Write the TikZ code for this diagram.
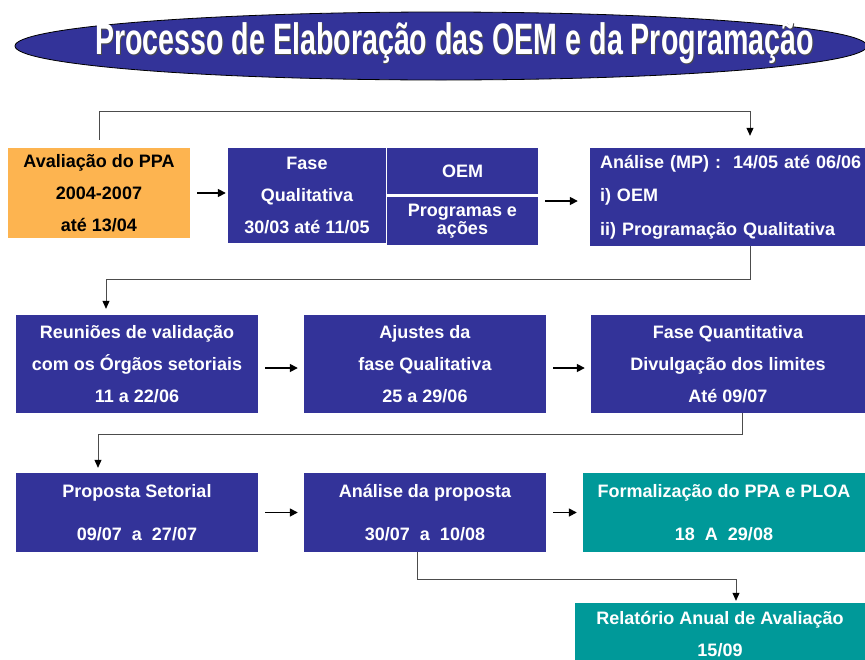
\documentclass[tikz,border=0pt]{standalone}
\usepackage{fontspec}
\setmainfont{Liberation Sans}
\newfontfamily\narrowfont[FakeStretch=0.65]{Liberation Sans}
\usetikzlibrary{arrows.meta}

\definecolor{oemblue}{RGB}{51,51,153}
\definecolor{ppaorange}{RGB}{253,180,80}
\definecolor{ppateal}{RGB}{0,153,153}

\tikzset{
    box/.style={rectangle, inner sep=0pt, align=center, text=white,
        font=\bfseries\fontsize{18}{32}\selectfont},
    bluebox/.style={box, fill=oemblue},
    tealbox/.style={box, fill=ppateal},
    link/.style={draw=gray!60!black, line width=0.8pt,
        -{Triangle[length=8pt,width=7pt,color=black]}},
    go/.style={line width=1.6pt, -{Triangle[length=8pt,width=8pt]}}
}

\begin{document}
\begin{tikzpicture}[x=1pt,y=-1pt]

    \useasboundingbox (0,0) rectangle (865,659);

    % Title
    \draw[fill=oemblue, draw=black, line width=0.8pt] (441,46) ellipse (426 and 34);
    \node[text=black!70, font=\narrowfont\bfseries\fontsize{44}{44}\selectfont] at (455.3,44.3) {Processo de Elaboração das OEM e da Programação};
    \node[text=white, font=\narrowfont\bfseries\fontsize{44}{44}\selectfont] (title) at (454.5,43.5) {Processo de Elaboração das OEM e da Programação};

    % First row
    \node[box, fill=ppaorange, text=black, minimum width=182, minimum height=90] (aval) at (99,193) {Avaliação do PPA\\2004-2007\\até 13/04};
    \node[bluebox, minimum width=158, minimum height=95] (fasequal) at (307,195.5) {Fase\\Qualitativa\\30/03 até 11/05};
    \node[bluebox, minimum width=151, minimum height=46] (oem) at (462.5,171) {OEM};
    \node[bluebox, minimum width=151, minimum height=48, font=\bfseries\fontsize{18}{16.5}\selectfont] (prog) at (462.5,221) {Programas e\\ações};
    \node[bluebox, minimum width=275, minimum height=98, align=left, text width=271, font=\bfseries\fontsize{18}{33.5}\selectfont] (analise) at (727.5,197) {\hspace*{8pt}Análise (MP) :~ 14/05 até 06/06\\\hspace*{8pt}i) OEM\\\hspace*{8pt}ii) Programação Qualitativa};

    % Second row
    \node[bluebox, minimum width=242, minimum height=98] (reun) at (137,364) {Reuniões de validação\\com os Órgãos setoriais\\11 a 22/06};
    \node[bluebox, minimum width=242, minimum height=98] (ajust) at (425,364) {Ajustes da\\fase Qualitativa\\25 a 29/06};
    \node[bluebox, minimum width=274, minimum height=98] (quant) at (728,364) {Fase Quantitativa\\Divulgação dos limites\\Até 09/07};

    % Third row
    \node[bluebox, minimum width=242, minimum height=79] (prop) at (137,512.5) {Proposta Setorial\\[11pt]09/07~ a~ 27/07};
    \node[bluebox, minimum width=242, minimum height=79] (anprop) at (425,512.5) {Análise da proposta\\[11pt]30/07~ a~ 10/08};
    \node[tealbox, minimum width=282, minimum height=79] (formal) at (724,512.5) {Formalização do PPA e PLOA\\[11pt]18~ A~ 29/08};

    % Last box
    \node[tealbox, minimum width=290, minimum height=62] (relat) at (720,634) {Relatório Anual de Avaliação\\15/09};

    % Arrows
    \draw[go] ([xshift=7]aval.east) -- ([xshift=-2]aval.east -| fasequal.west);
    \draw[go] ([xshift=7,yshift=-4]prog.east |- analise.west) -- ([xshift=-12,yshift=-4]analise.west);
    \draw[go] ([xshift=7,yshift=-4]reun.east) -- ([xshift=-6,yshift=-4]ajust.west);
    \draw[go] ([xshift=7,yshift=-4]ajust.east) -- ([xshift=-6,yshift=-4]quant.west);
    \draw[go] ([xshift=7]prop.east) -- ([xshift=-6]anprop.west);
    \draw[go] ([xshift=7]anprop.east) -- ([xshift=-6]formal.west);

    % Connectors
    \draw[link] ([yshift=8]aval.north) |- ([xshift=22.5,yshift=36]analise.north) -- ([xshift=22.5,yshift=12]analise.north);
    \draw[link] ([xshift=22.5]analise.south) |- ([xshift=-31,yshift=35]reun.north) -- ([xshift=-31,yshift=6]reun.north);
    \draw[link] ([xshift=14]quant.south) |- ([xshift=-39,yshift=38]prop.north) -- ([xshift=-39,yshift=5]prop.north);
    \draw[link] ([xshift=-8]anprop.south) |- ([xshift=16,yshift=23]relat.north) -- ([xshift=16,yshift=2]relat.north);

\end{tikzpicture}
\end{document}
